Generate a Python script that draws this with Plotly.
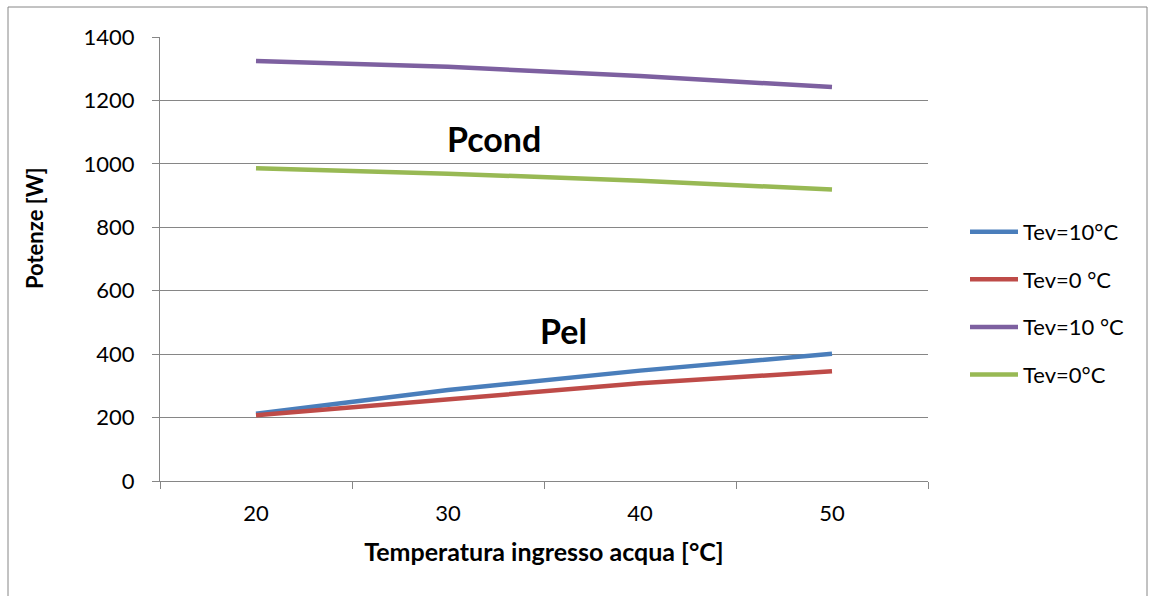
import plotly.graph_objects as go

# Water inlet temperature categories [°C]
temperature = ["20", "30", "40", "50"]

# Electric power absorbed (Pel) [W]
pel_tev10 = [212, 287, 348, 401]
pel_tev0 = [207, 258, 308, 346]

# Condenser power (Pcond) [W]
pcond_tev10 = [1324, 1306, 1277, 1242]
pcond_tev0 = [986, 969, 947, 919]

y_ticks = [0, 200, 400, 600, 800, 1000, 1200, 1400]

series = [
    ("Tev=10°C", pel_tev10, "#4A7EBB"),
    ("Tev=0 °C", pel_tev0, "#BE4B48"),
    ("Tev=10 °C", pcond_tev10, "#7D60A0"),
    ("Tev=0°C", pcond_tev0, "#98B954"),
]

FONT = "Lato, Carlito, Calibri, sans-serif"
GRID = "#868686"

# plot area in pixels: x 160..928, y 37..481
L, R, T, B = 160, 928, 37, 481


def px_x(p):
    return (p - L) / (R - L)


def px_y(p):
    return (B - p) / (B - T)


fig = go.Figure()
for i, (name, values, color) in enumerate(series):
    fig.add_trace(go.Scatter(
        x=temperature, y=values, name=name, mode="lines",
        line=dict(color=color, width=4.5),
        legendgroup=f"g{i}",
    ))

fig.update_layout(
    width=1152, height=596,
    margin=dict(l=L, r=1152 - R, t=T, b=596 - B),
    paper_bgcolor="white", plot_bgcolor="white",
    font=dict(family=FONT, size=22, color="black"),
    showlegend=True,
    legend=dict(
        x=px_x(965), y=0.40, xanchor="left", yanchor="middle",
        traceorder="grouped", tracegroupgap=16,
        font=dict(size=22), itemwidth=48,
        bgcolor="rgba(0,0,0,0)",
    ),
    xaxis=dict(
        type="category", range=[-0.5, 3.5],
        tickson="boundaries", ticks="outside", ticklen=7,
        tickcolor=GRID, showline=True, linecolor=GRID, linewidth=1,
        showgrid=False, zeroline=False,
        ticklabelstandoff=13,
        title=dict(text="<b>Temperatura ingresso acqua [°C]</b>",
                   font=dict(size=25), standoff=18),
    ),
    yaxis=dict(
        range=[0, 1400], tickvals=y_ticks,
        ticks="outside", ticklen=7, tickcolor=GRID,
        showline=True, linecolor=GRID, linewidth=1,
        showgrid=True, gridcolor=GRID, gridwidth=1,
        zeroline=False, ticklabelstandoff=13,
    ),
    annotations=[
        dict(text="<b>Potenze [W]</b>", x=px_x(34), y=px_y(228),
             xref="paper", yref="paper", textangle=-90,
             xanchor="center", yanchor="middle",
             showarrow=False, font=dict(size=22)),
        dict(text="<b>Pcond</b>", x=1.24, y=1080, xref="x", yref="y",
             showarrow=False, font=dict(size=34)),
        dict(text="<b>Pel</b>", x=1.6, y=475, xref="x", yref="y",
             showarrow=False, font=dict(size=34)),
    ],
    shapes=[
        dict(type="rect", xref="paper", yref="paper",
             x0=px_x(8), x1=px_x(1147), y0=px_y(620), y1=px_y(7),
             line=dict(color=GRID, width=1), fillcolor="rgba(0,0,0,0)",
             layer="below"),
    ],
)

fig.write_html("out.html")
